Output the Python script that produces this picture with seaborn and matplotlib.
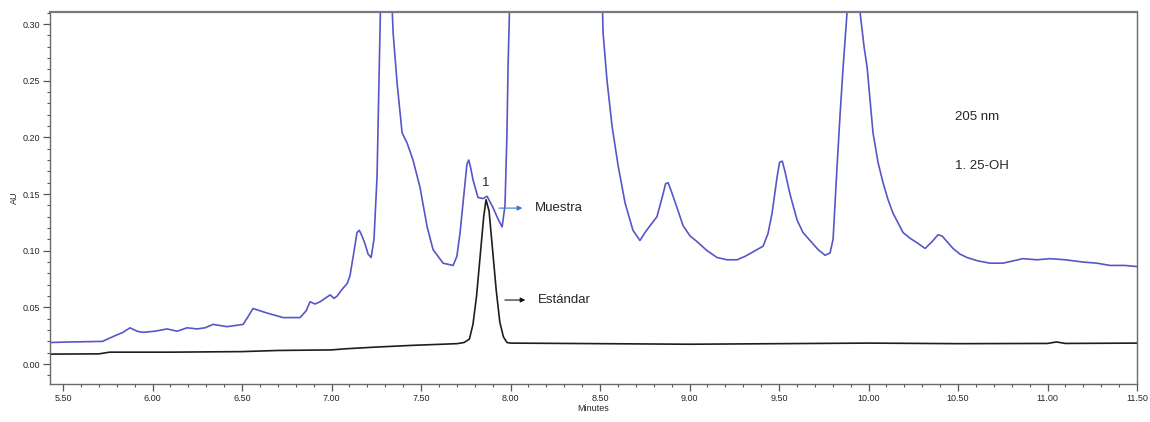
import numpy as np
import pandas as pd
import seaborn as sns
import matplotlib.pyplot as plt
from matplotlib.ticker import MultipleLocator, FormatStrFormatter

# Retention time (min) and absorbance (AU) of the sample trace
muestra_t = [5.427, 5.539, 5.720, 5.790, 5.835, 5.874, 5.913, 5.947, 6.014, 6.081,
             6.137, 6.193, 6.249, 6.293, 6.338, 6.416, 6.506, 6.534, 6.561, 6.600,
             6.640, 6.729, 6.824, 6.858, 6.880, 6.908, 6.936, 6.964, 6.992, 7.014,
             7.031, 7.059, 7.087, 7.103, 7.126, 7.142, 7.155, 7.170, 7.187, 7.204, 7.221,
             7.237, 7.254, 7.271, 7.293, 7.316, 7.344, 7.366, 7.394, 7.422, 7.455,
             7.494, 7.534, 7.567, 7.623, 7.679, 7.700, 7.718, 7.746, 7.756, 7.766, 7.776, 7.791,
             7.818, 7.846, 7.869, 7.902, 7.930, 7.953, 7.969, 7.980, 7.986, 7.997,
             8.025, 8.280, 8.483, 8.511, 8.517, 8.539, 8.567, 8.601, 8.640, 8.684,
             8.723, 8.751, 8.779, 8.818, 8.852, 8.866, 8.880, 8.897, 8.930, 8.964, 9.003,
             9.042, 9.098, 9.154, 9.209, 9.265, 9.310, 9.355, 9.411, 9.438, 9.461,
             9.489, 9.503, 9.518, 9.533, 9.561, 9.601, 9.634, 9.673, 9.718, 9.757, 9.785,
             9.802, 9.824, 9.841, 9.858, 9.880, 9.913, 9.953, 9.975, 9.992, 10.025,
             10.053, 10.081, 10.109, 10.137, 10.193, 10.232, 10.271, 10.316, 10.355, 10.388,
             10.411, 10.439, 10.472, 10.511, 10.550, 10.612, 10.679, 10.751, 10.807, 10.863,
             10.941, 11.014, 11.098, 11.198, 11.277, 11.349, 11.433, 11.500]
muestra_au = [0.019, 0.0195, 0.020, 0.025, 0.028, 0.032, 0.029, 0.028, 0.029, 0.031,
              0.029, 0.032, 0.031, 0.032, 0.035, 0.033, 0.035, 0.042, 0.049, 0.047,
              0.045, 0.041, 0.041, 0.047, 0.055, 0.053, 0.055, 0.058, 0.061, 0.058,
              0.060, 0.066, 0.071, 0.078, 0.100, 0.116, 0.118, 0.113, 0.106, 0.097, 0.094,
              0.110, 0.165, 0.300, 0.450, 0.400, 0.292, 0.248, 0.204, 0.195, 0.180,
              0.156, 0.121, 0.101, 0.089, 0.087, 0.095, 0.116, 0.160, 0.176, 0.180, 0.174, 0.162,
              0.147, 0.146, 0.148, 0.138, 0.128, 0.121, 0.140, 0.204, 0.262, 0.330,
              0.600, 0.900, 0.500, 0.330, 0.292, 0.250, 0.210, 0.175, 0.142, 0.118,
              0.109, 0.116, 0.122, 0.130, 0.150, 0.159, 0.160, 0.153, 0.138, 0.122, 0.113,
              0.108, 0.100, 0.094, 0.092, 0.092, 0.095, 0.099, 0.104, 0.115, 0.133,
              0.165, 0.178, 0.179, 0.170, 0.150, 0.127, 0.116, 0.109, 0.101, 0.096, 0.098,
              0.110, 0.174, 0.220, 0.262, 0.310, 0.420, 0.310, 0.280, 0.262, 0.204,
              0.178, 0.160, 0.145, 0.133, 0.116, 0.111, 0.107, 0.102, 0.108, 0.114,
              0.113, 0.108, 0.102, 0.097, 0.094, 0.091, 0.089, 0.089, 0.091, 0.093,
              0.092, 0.093, 0.092, 0.090, 0.089, 0.087, 0.087, 0.086]

# Retention time (min) and absorbance (AU) of the reference standard trace
estandar_t = [5.427, 5.700, 5.760, 6.100, 6.500, 6.700, 7.000, 7.080, 7.250, 7.450, 7.700,
              7.740, 7.770, 7.790, 7.810, 7.830, 7.850, 7.863, 7.880, 7.900, 7.920,
              7.940, 7.960, 7.980, 8.000, 8.500, 9.000, 9.500, 10.000, 10.500, 11.000,
              11.050, 11.100, 11.500]
estandar_au = [0.0088, 0.0090, 0.0105, 0.0105, 0.0110, 0.0120, 0.0125, 0.0135, 0.0150, 0.0165, 0.0180,
               0.0190, 0.0220, 0.0350, 0.0600, 0.0950, 0.1300, 0.1450, 0.1350, 0.1000, 0.0650,
               0.0370, 0.0240, 0.0190, 0.0185, 0.0180, 0.0175, 0.0180, 0.0185, 0.0180, 0.0182,
               0.0195, 0.0182, 0.0185]

x_ticks = [5.5, 6.0, 6.5, 7.0, 7.5, 8.0, 8.5, 9.0, 9.5, 10.0, 10.5, 11.0, 11.5]
y_ticks = [0.00, 0.05, 0.10, 0.15, 0.20, 0.25, 0.30]

sns.set_style("ticks")
plt.rcParams['font.family'] = ['Liberation Sans', 'DejaVu Sans']

blue = '#5656c8'
df_m = pd.DataFrame({'Minutes': muestra_t, 'AU': muestra_au})
df_e = pd.DataFrame({'Minutes': estandar_t, 'AU': estandar_au})

fig, ax = plt.subplots(figsize=(11.5, 4.22), dpi=100)
fig.subplots_adjust(left=0.0435, right=0.9887, bottom=0.090, top=0.9716)

sns.lineplot(data=df_e, x='Minutes', y='AU', color='#1e1e1e', linewidth=1.2,
             estimator=None, ax=ax)
sns.lineplot(data=df_m, x='Minutes', y='AU', color=blue, linewidth=1.2,
             estimator=None, ax=ax)

ax.set_xlim(5.427, 11.5)
ax.set_ylim(-0.0176, 0.3106)

ax.set_xticks(x_ticks)
ax.set_yticks(y_ticks)
ax.xaxis.set_major_formatter(FormatStrFormatter('%.2f'))
ax.yaxis.set_major_formatter(FormatStrFormatter('%.2f'))
ax.xaxis.set_minor_locator(MultipleLocator(0.1))
ax.yaxis.set_minor_locator(MultipleLocator(0.01))
ax.tick_params(which='major', length=5, width=0.9, labelsize=6.5, color='#555555', pad=2)
ax.tick_params(which='minor', length=2.5, width=0.8, color='#555555')

ax.set_xlabel('Minutes', fontsize=6.5, labelpad=1)
ax.set_ylabel('AU', fontsize=6.5, labelpad=3)

for name, sp in ax.spines.items():
    sp.set_visible(True)
    sp.set_color('#6a6a6a')
    sp.set_linewidth(1.0)
ax.spines['top'].set_linewidth(1.6)
ax.spines['top'].set_color('#7a7a7a')

# Peak label and trace annotations
ax.text(7.863, 0.160, '1', fontsize=9.5, ha='center', va='center')
ax.annotate('', xy=(8.081, 0.1376), xytext=(7.92, 0.1376),
            arrowprops=dict(arrowstyle='-|>', color='#3a78c8', lw=0.8, mutation_scale=7))
ax.text(8.137, 0.1376, 'Muestra', fontsize=9.5, ha='left', va='center')
ax.annotate('', xy=(8.098, 0.0565), xytext=(7.953, 0.0565),
            arrowprops=dict(arrowstyle='-|>', color='#111111', lw=0.8, mutation_scale=7))
ax.text(8.154, 0.0565, 'Estándar', fontsize=9.5, ha='left', va='center')

ax.text(10.483, 0.218, '205 nm', fontsize=9.5, ha='left', va='center')
ax.text(10.483, 0.175, '1. 25-OH', fontsize=9.5, ha='left', va='center')

fig.savefig('out.png', dpi=100)
